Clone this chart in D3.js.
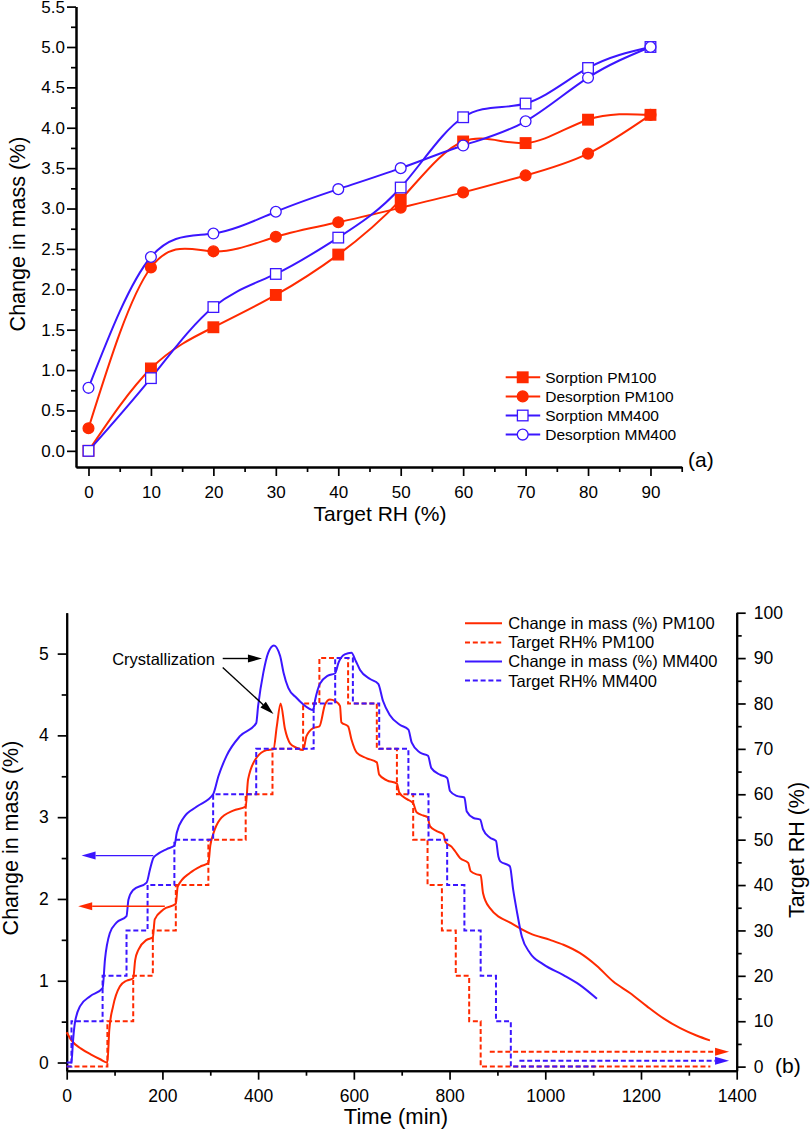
<!DOCTYPE html>
<html>
<head>
<meta charset="utf-8">
<script src="https://cdn.jsdelivr.net/npm/d3@7"></script>
<style>
body{margin:0;background:#fff}
svg{display:block;font-family:"Liberation Sans",Arial,sans-serif}
</style>
</head>
<body>
<svg id="chart" width="810" height="1131"></svg>
<script>
// ---------- panel (a): sorption isotherms
var rhLevels = [0,10,20,30,40,50,60,70,80,90]
var sorptionPM100 = [0,1.02,1.53,1.93,2.43,3.11,3.83,3.81,4.10,4.16]
var desorptionPM100 = [0.28,2.27,2.47,2.65,2.83,3.01,3.20,3.41,3.68,4.16]
var sorptionMM400 = [0,0.90,1.78,2.19,2.64,3.26,4.13,4.30,4.74,5.00]
var desorptionMM400 = [0.78,2.40,2.69,2.96,3.24,3.50,3.78,4.08,4.62,5.00]

// ---------- panel (b): kinetics, [time (min), value]
var massPM100 = [[0,0.37],[10,0.27],[30,0.17],[50,0.10],[70,0.04],[85,0.0],[89,0.40],[97,0.69],[111,0.93],[125,1.00],[139,1.03],
  [143,1.25],[150,1.38],[167,1.50],[180,1.53],[184,1.75],[202,1.87],[228,1.94],[232,2.15],[258,2.32],[280,2.40],[296,2.44],
  [300,2.65],[306,2.79],[320,2.97],[348,3.08],[374,3.13],[379,3.46],[397,3.73],[418,3.82],[432,3.83],[439,4.11],[447,4.39],
  [456,4.08],[467,3.90],[480,3.85],[494,3.82],[501,3.99],[515,4.09],[528,4.11],[540,4.38],[550,4.44],[561,4.42],[571,4.36],
  [574,4.16],[588,4.11],[595,3.95],[606,3.79],[627,3.72],[648,3.67],[653,3.52],[669,3.45],[690,3.41],[695,3.30],[711,3.22],
  [724,3.17],[731,3.06],[745,3.02],[754,3.00],[759,2.89],[773,2.83],[787,2.79],[792,2.69],[804,2.64],[812,2.58],[822,2.50],
  [839,2.44],[844,2.34],[857,2.30],[865,2.29],[870,2.07],[884,1.89],[933,1.69],[968,1.58],[1010,1.50],[1038,1.44],[1072,1.34],
  [1108,1.18],[1142,0.99],[1177,0.85],[1212,0.69],[1247,0.54],[1282,0.42],[1316,0.33],[1344,0.27]]
var massMM400 = [[0,0],[10,0.0],[13,0.25],[17,0.48],[28,0.69],[49,0.81],[75,0.91],[80,1.26],[90,1.58],[104,1.71],[125,1.79],
  [129,1.99],[139,2.11],[167,2.20],[174,2.36],[181,2.50],[188,2.54],[209,2.61],[225,2.65],[230,2.81],[244,2.99],[272,3.13],
  [306,3.28],[317,3.50],[334,3.75],[362,3.99],[396,4.15],[400,4.36],[411,4.77],[421,5.01],[433,5.10],[446,4.97],[453,4.77],
  [463,4.58],[480,4.46],[494,4.38],[515,4.31],[519,4.43],[529,4.63],[546,4.73],[561,4.76],[568,4.89],[581,4.99],[595,5.01],
  [604,4.91],[613,4.80],[634,4.69],[651,4.63],[661,4.42],[675,4.25],[696,4.13],[714,4.07],[721,3.91],[738,3.79],[755,3.75],
  [762,3.60],[780,3.52],[795,3.48],[801,3.32],[815,3.26],[831,3.24],[836,3.07],[850,2.99],[864,2.97],[870,2.85],[884,2.75],
  [897,2.71],[902,2.52],[906,2.46],[926,2.40],[933,2.11],[940,1.87],[951,1.54],[968,1.34],[996,1.20],[1038,1.07],[1072,0.95],[1108,0.78]]
var targetPM100 = [[0,0],[85,10],[139,20],[180,30],[228,40],[296,50],[374,60],[430,70],[494,80],[528,90],[588,80],[648,70],
  [690,60],[724,50],[754,40],[784,30],[813,20],[841,10],[865,0],[1345,0]]
var targetMM400 = [[0,0],[10,10],[75,20],[125,30],[169,40],[225,50],[306,60],[396,70],[516,80],[561,90],[598,80],[653,70],
  [714,60],[756,50],[795,40],[831,30],[865,20],[897,10],[928,0],[1105,0]]

var red = "#ff2a00", blue = "#3b16ff"

var svg = d3.select("#chart")

function styleAxis(g, size){
  g.select(".domain").attr("stroke","#000").attr("stroke-width",2)
  g.selectAll(".tick line").attr("stroke","#000").attr("stroke-width",1.7)
  g.selectAll(".tick text").attr("fill","#000").attr("font-size",size)
}

function arrow(g, p0, p1, color, dash){
  var dx = p1[0]-p0[0], dy = p1[1]-p0[1], len = Math.sqrt(dx*dx+dy*dy)
  var ux = dx/len, uy = dy/len, L = 14, w = 4
  var bx = p1[0]-ux*L, by = p1[1]-uy*L
  g.append("line").attr("x1",p0[0]).attr("y1",p0[1]).attr("x2",bx).attr("y2",by)
    .attr("stroke",color).attr("stroke-width",dash ? 2 : 1.4).attr("stroke-dasharray",dash || null)
  g.append("path").attr("fill",color)
    .attr("d","M"+p1[0]+","+p1[1]+"L"+(bx-uy*w)+","+(by+ux*w)+"L"+(bx+uy*w)+","+(by-ux*w)+"Z")
}

// ================= panel (a)
var xA = d3.scaleLinear().domain([-2,95]).range([76,681.7])
var yA = d3.scaleLinear().domain([-0.2,5.5]).range([467,6.6])

var gA = svg.append("g")

gA.append("g").attr("transform","translate(0,467)")
  .call(d3.axisBottom(xA).tickValues(d3.range(5,96,10)).tickSize(5).tickSizeOuter(0).tickFormat(""))
  .call(g => styleAxis(g,17))
gA.append("g").attr("transform","translate(0,467)")
  .call(d3.axisBottom(xA).tickValues(rhLevels).tickSize(9).tickSizeOuter(0).tickPadding(10))
  .call(g => styleAxis(g,17))
gA.append("g").attr("transform","translate(76,0)")
  .call(d3.axisLeft(yA).tickValues(d3.range(0,11).map(i => 0.25+i*0.5)).tickSize(5).tickSizeOuter(0).tickFormat(""))
  .call(g => styleAxis(g,17))
gA.append("g").attr("transform","translate(76,0)")
  .call(d3.axisLeft(yA).tickValues(d3.range(0,12).map(i => i*0.5)).tickSize(9).tickSizeOuter(0).tickPadding(2).tickFormat(d3.format(".1f")))
  .call(g => styleAxis(g,17))

gA.append("text").attr("x",380).attr("y",513).attr("text-anchor","middle").attr("dominant-baseline","central")
  .attr("font-size",21).text("Target RH (%)")
gA.append("text").attr("transform","translate(18,234) rotate(-90)").attr("text-anchor","middle").attr("dominant-baseline","central")
  .attr("font-size",21.5).text("Change in mass (%)")
gA.append("text").attr("x",688).attr("y",459).attr("dominant-baseline","central").attr("font-size",21).text("(a)")

var seriesA = [
  {name:"Sorption PM100", values:sorptionPM100, color:red, shape:"square", filled:true},
  {name:"Desorption PM100", values:desorptionPM100, color:red, shape:"circle", filled:true},
  {name:"Sorption MM400", values:sorptionMM400, color:blue, shape:"square", filled:false},
  {name:"Desorption MM400", values:desorptionMM400, color:blue, shape:"circle", filled:false}
]

var lineA = d3.line().x(d => xA(d[0])).y(d => yA(d[1])).curve(d3.curveNatural)

function drawMarker(g, cx, cy, s){
  if(s.shape == "square"){
    g.append("rect").attr("x",cx-5.3).attr("y",cy-5.3).attr("width",10.6).attr("height",10.6)
      .attr("fill",s.filled ? s.color : "#fff").attr("stroke",s.color).attr("stroke-width",1.3)
  } else {
    g.append("circle").attr("cx",cx).attr("cy",cy).attr("r",5.4)
      .attr("fill",s.filled ? s.color : "#fff").attr("stroke",s.color).attr("stroke-width",1.3)
  }
}

seriesA.forEach(function(s){
  var pts = rhLevels.map((r,i) => [r, s.values[i]])
  gA.append("path").datum(pts).attr("d",lineA).attr("fill","none").attr("stroke",s.color).attr("stroke-width",2)
})
seriesA.forEach(function(s){
  rhLevels.forEach(function(r,i){ drawMarker(gA, xA(r), yA(s.values[i]), s) })
})

var legA = gA.append("g").attr("transform","translate(505.7,377.3)")
seriesA.forEach(function(s,i){
  var y = i*19.1
  legA.append("line").attr("x1",0).attr("x2",34.5).attr("y1",y).attr("y2",y).attr("stroke",s.color).attr("stroke-width",2)
  drawMarker(legA, 17, y, s)
  legA.append("text").attr("x",39.5).attr("y",y).attr("dominant-baseline","central").attr("font-size",15.5).text(s.name)
})

// ================= panel (b)
var xB = d3.scaleLinear().domain([0,1400]).range([66.7,736.7])
var yB = d3.scaleLinear().domain([-0.1,5.5]).range([1070.7,612.7])
var yR = d3.scaleLinear().domain([-0.9,100]).range([1070.7,612.7])

var gB = svg.append("g")

gB.append("g").attr("transform","translate(0,1070.7)")
  .call(d3.axisBottom(xB).tickValues(d3.range(100,1400,200)).tickSize(5).tickSizeOuter(0).tickFormat(""))
  .call(g => styleAxis(g,17.5))
gB.append("g").attr("transform","translate(0,1070.7)")
  .call(d3.axisBottom(xB).tickValues(d3.range(0,1401,200)).tickSize(9).tickSizeOuter(0).tickPadding(9.5).tickFormat(d3.format("d")))
  .call(g => styleAxis(g,17.5))
gB.append("g").attr("transform","translate(66.7,0)")
  .call(d3.axisLeft(yB).tickValues([0.5,1.5,2.5,3.5,4.5]).tickSize(5).tickSizeOuter(0).tickFormat(""))
  .call(g => styleAxis(g,17.5))
gB.append("g").attr("transform","translate(66.7,0)")
  .call(d3.axisLeft(yB).tickValues([0,1,2,3,4,5]).tickSize(9).tickSizeOuter(0).tickPadding(9).tickFormat(d3.format("d")))
  .call(g => styleAxis(g,17.5))
gB.append("g").attr("transform","translate(736.7,0)")
  .call(d3.axisRight(yR).tickValues(d3.range(5,100,10)).tickSize(5).tickSizeOuter(0).tickFormat(""))
  .call(g => styleAxis(g,17.5))
gB.append("g").attr("transform","translate(736.7,0)")
  .call(d3.axisRight(yR).tickValues(d3.range(0,101,10)).tickSize(9).tickSizeOuter(0).tickPadding(8).tickFormat(d3.format("d")))
  .call(g => styleAxis(g,17.5))

gB.append("text").attr("x",396).attr("y",1116.5).attr("text-anchor","middle").attr("dominant-baseline","central")
  .attr("font-size",22).text("Time (min)")
gB.append("text").attr("transform","translate(11,838) rotate(-90)").attr("text-anchor","middle").attr("dominant-baseline","central")
  .attr("font-size",21.5).text("Change in mass (%)")
gB.append("text").attr("transform","translate(797,850) rotate(-90)").attr("text-anchor","middle").attr("dominant-baseline","central")
  .attr("font-size",21.5).text("Target RH (%)")
gB.append("text").attr("x",775).attr("y",1065).attr("dominant-baseline","central").attr("font-size",21).text("(b)")

var seriesB = [
  {name:"Change in mass (%) PM100", values:massPM100, color:red, dash:null, scale:yB},
  {name:"Target RH% PM100", values:targetPM100, color:red, dash:"5,2.8", scale:yR},
  {name:"Change in mass (%) MM400", values:massMM400, color:blue, dash:null, scale:yB},
  {name:"Target RH% MM400", values:targetMM400, color:blue, dash:"5,2.8", scale:yR}
]

seriesB.forEach(function(s){
  var ln = d3.line().x(d => xB(d[0])).y(d => s.scale(d[1]))
    .curve(s.dash ? d3.curveStepAfter : d3.curveMonotoneX)
  gB.append("path").datum(s.values).attr("d",ln).attr("fill","none").attr("stroke",s.color)
    .attr("stroke-width",2).attr("stroke-dasharray",s.dash)
})

// axis pointer arrows
var massArrows = [{from:[181,2.53], to:[31,2.53], color:blue}, {from:[205,1.91], to:[24,1.91], color:red}]
massArrows.forEach(function(a){
  arrow(gB, [xB(a.from[0]), yB(a.from[1])], [xB(a.to[0]), yB(a.to[1])], a.color, null)
})
var rhArrows = [{from:[884,3.3], to:[1384,3.3], color:red}, {from:[946,1.3], to:[1384,1.3], color:blue}]
rhArrows.forEach(function(a){
  arrow(gB, [xB(a.from[0]), yR(a.from[1])], [xB(a.to[0]), yR(a.to[1])], a.color, "5,2.8")
})

// crystallization annotation
var crystLabel = [95, 4.93]
var crystArrows = [[[326,4.94],[408,4.94]], [[326,4.83],[432,4.26]]]
gB.append("text").attr("x",xB(crystLabel[0])).attr("y",yB(crystLabel[1])).attr("dominant-baseline","central")
  .attr("font-size",16.5).text("Crystallization")
crystArrows.forEach(function(a){
  arrow(gB, [xB(a[0][0]), yB(a[0][1])], [xB(a[1][0]), yB(a[1][1])], "#000", null)
})

var legB = gB.append("g").attr("transform","translate(465,623.3)")
seriesB.forEach(function(s,i){
  var y = i*19.1
  legB.append("line").attr("x1",0).attr("x2",37).attr("y1",y).attr("y2",y).attr("stroke",s.color)
    .attr("stroke-width",2).attr("stroke-dasharray",s.dash)
  legB.append("text").attr("x",43.3).attr("y",y).attr("dominant-baseline","central").attr("font-size",16.5).text(s.name)
})
</script>
</body>
</html>
